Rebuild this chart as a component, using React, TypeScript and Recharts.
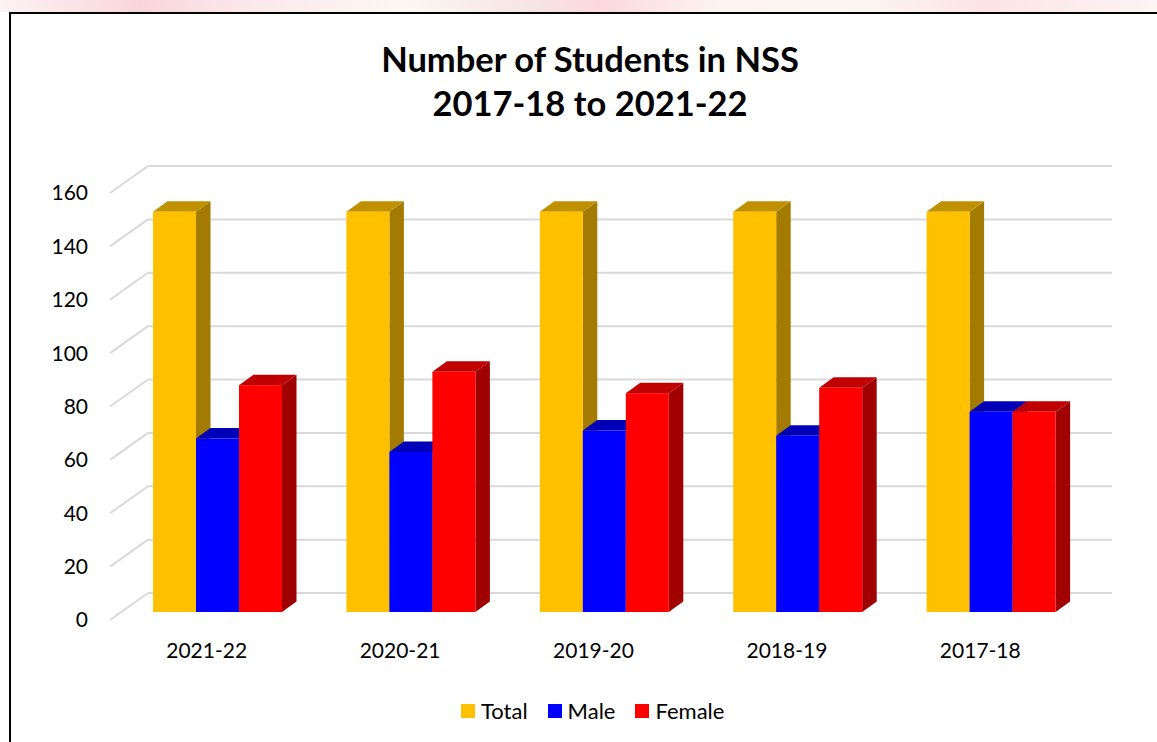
import React from "react"
import { BarChart, Bar, XAxis, YAxis, CartesianGrid, Legend } from "recharts"

const years = ["2021-22", "2020-21", "2019-20", "2018-19", "2017-18"]
const total = [150, 150, 150, 150, 150]
const male = [65, 60, 68, 66, 75]
const female = [85, 90, 82, 84, 75]
const yTicks = [0, 20, 40, 60, 80, 100, 120, 140, 160]

const data = years.map((year, i) => ({
  year,
  Total: total[i],
  Male: male[i],
  Female: female[i],
}))

const FONT = "Lato, 'Open Sans', sans-serif"

// oblique 3D: floor depth and bar depth
const FLOOR_DX = 38
const FLOOR_DY = -27
const SHIFT_DX = 11
const SHIFT_DY = -8
const DEPTH_DX = 14.5
const DEPTH_DY = -10.5

const palette = {
  Total: { front: "#FFC000", top: "#C09000", side: "#A27B00" },
  Male: { front: "#0000FF", top: "#0000B8", side: "#00009A" },
  Female: { front: "#FF0000", top: "#C00000", side: "#A00000" },
}

type Key = keyof typeof palette

const makeBox = (key: Key) => (props: any) => {
  const { x, y, width, height } = props
  if (height == null || width == null) return <g />
  const c = palette[key]
  const fx = x + SHIFT_DX
  const fy = y + SHIFT_DY
  const bottom = fy + height
  const top = `${fx},${fy} ${fx + width},${fy} ${fx + width + DEPTH_DX},${fy + DEPTH_DY} ${fx + DEPTH_DX},${fy + DEPTH_DY}`
  const side = `${fx + width},${fy} ${fx + width + DEPTH_DX},${fy + DEPTH_DY} ${fx + width + DEPTH_DX},${bottom + DEPTH_DY} ${fx + width},${bottom}`
  return (
    <g>
      <polygon points={side} fill={c.side} />
      <polygon points={top} fill={c.top} />
      <rect x={fx} y={fy} width={width} height={height} fill={c.front} />
    </g>
  )
}

const gridLine = (props: any) => {
  const { x1, y1, x2, y2, index } = props
  return (
    <g key={`grid-${index}`}>
      <line x1={x1} y1={y1} x2={x1 + FLOOR_DX} y2={y1 + FLOOR_DY} stroke="#D9D9D9" strokeWidth={2} />
      <line x1={x1 + FLOOR_DX} y1={y1 + FLOOR_DY} x2={x2 + FLOOR_DX - 3} y2={y2 + FLOOR_DY} stroke="#D9D9D9" strokeWidth={2} />
    </g>
  )
}

const LegendContent = () => (
  <div style={{ display: "flex", alignItems: "center", fontFamily: FONT, fontSize: 22, color: "#000" }}>
    {(["Total", "Male", "Female"] as Key[]).map((k) => (
      <div key={k} style={{ display: "flex", alignItems: "center", marginRight: 20 }}>
        <span style={{ display: "inline-block", width: 14, height: 14, background: palette[k].front, marginRight: 6 }} />
        <span>{k}</span>
      </div>
    ))}
  </div>
)

export default function App() {
  return (
    <div style={{ position: "fixed", left: 0, top: 0, width: 1157, height: 742, background: "#fff", overflow: "hidden" }}>
      <div
        style={{
          position: "absolute",
          left: 0,
          top: 0,
          width: 1157,
          height: 12,
          background:
            "linear-gradient(90deg, #fdf3f4 0%, #f9d6dc 12%, #fbe9ec 22%, #fdf7f2 35%, #f6e6e6 45%, #fbd9de 52%, #fdf3f0 62%, #fbf5ef 75%, #fde4e6 85%, #fdf4f4 100%)",
        }}
      />
      <div
        style={{
          position: "absolute",
          left: 9,
          top: 12,
          width: 1200,
          height: 800,
          borderLeft: "2.5px solid #000",
          borderTop: "2.5px solid #000",
        }}
      />
      <div
        style={{
          position: "absolute",
          left: 340,
          width: 500,
          top: 37,
          textAlign: "center",
          fontFamily: FONT,
          fontWeight: 700,
          fontSize: 34.5,
          lineHeight: "44px",
          color: "#000",
        }}
      >
        Number of Students in NSS
        <br />
        2017-18 to 2021-22
      </div>
      <div style={{ position: "absolute", left: 0, top: 0 }}>
        <BarChart
          width={1157}
          height={742}
          data={data}
          margin={{ top: 193, right: 80, bottom: 92, left: 50 }}
          barSize={43}
          barGap={0}
        >
          <CartesianGrid vertical={false} horizontal={gridLine} />
          <XAxis
            dataKey="year"
            height={30}
            axisLine={false}
            tickLine={false}
            tickMargin={17}
            tick={{ fill: "#000", fontSize: 21, fontFamily: FONT }}
          />
          <YAxis
            domain={[0, 160]}
            ticks={yTicks}
            width={60}
            axisLine={false}
            tickLine={false}
            tickMargin={16}
            tick={{ fill: "#000", fontSize: 21, fontFamily: FONT }}
          />
          <Legend
            layout="horizontal"
            verticalAlign="middle"
            align="center"
            wrapperStyle={{ left: 461, top: 697, width: "auto" }}
            content={LegendContent}
          />
          <Bar dataKey="Total" fill={palette.Total.front} shape={makeBox("Total")} isAnimationActive={false} />
          <Bar dataKey="Male" fill={palette.Male.front} shape={makeBox("Male")} isAnimationActive={false} />
          <Bar dataKey="Female" fill={palette.Female.front} shape={makeBox("Female")} isAnimationActive={false} />
        </BarChart>
      </div>
    </div>
  )
}
